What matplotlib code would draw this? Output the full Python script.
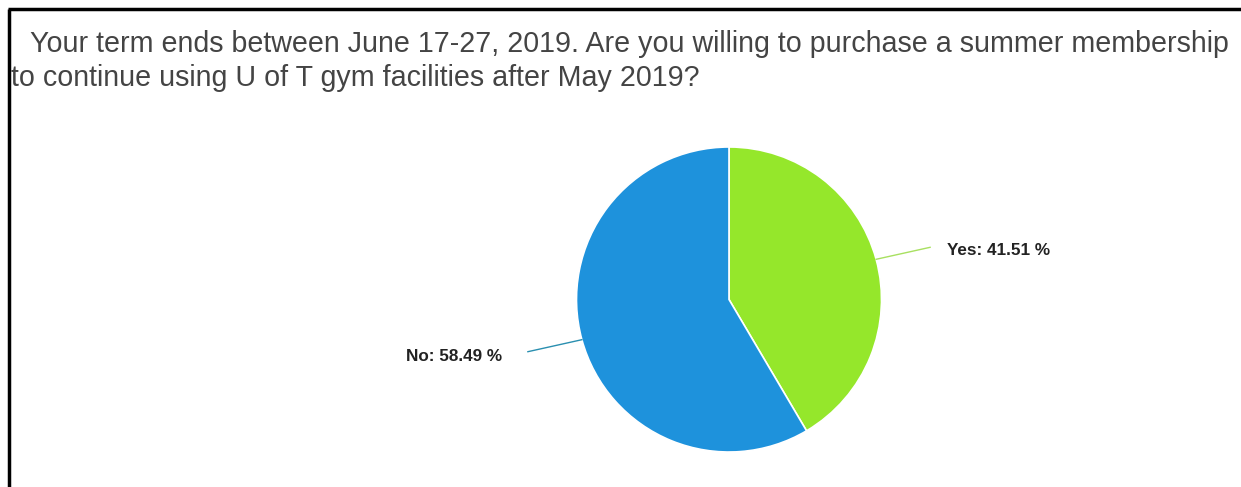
import numpy as np
import matplotlib.pyplot as plt

plt.rcParams['font.family'] = ['Liberation Sans', 'DejaVu Sans']

labels = ['Yes', 'No']
shares = [41.51, 58.49]
colors = ['#95e72b', '#1e92dc']
line_colors = ['#a8e060', '#2a8fb0']

title_lines = ['Your term ends between June 17-27, 2019. Are you willing to purchase a summer membership',
               'to continue using U of T gym facilities after May 2019?']

W, H = 1241, 487
fig = plt.figure(figsize=(W / 100, H / 100), dpi=100)
ax = fig.add_axes([0, 0, 1, 1])

cx, cy, r = 729, H - 299.5, 152.5
wedges, _ = ax.pie(shares, colors=colors, startangle=90, counterclock=False,
                   center=(cx, cy), radius=r,
                   wedgeprops=dict(edgecolor='white', linewidth=1.2))
ax.set_xlim(0, W)
ax.set_ylim(0, H)
ax.set_aspect('auto')
ax.axis('off')

# leader lines and labels at each slice's mid angle
for w, lab, val, lc in zip(wedges, labels, shares, line_colors):
    mid = np.deg2rad((w.theta1 + w.theta2) / 2)
    x0, y0 = cx + r * np.cos(mid), cy + r * np.sin(mid)
    dx = 1 if np.cos(mid) > 0 else -1
    x1, y1 = x0 + dx * 54, y0 + 12 * (1 if np.sin(mid) > 0 else -1)
    ax.plot([x0, x1], [y0, y1], color=lc, lw=1)
    gap = 17 if dx > 0 else 26
    ax.text(x1 + dx * gap, y1 - (3 if dx > 0 else 5), f'{lab}: {val:.2f} %', fontsize=12.3,
            fontweight='bold', color='#222222', va='center',
            ha='left' if dx > 0 else 'right')

ax.text(30, H - 52, title_lines[0], fontsize=20.6, color='#444444', va='baseline')
ax.text(11, H - 86, title_lines[1], fontsize=20.6, color='#444444', va='baseline')

# frame on the left and top edges
ax.plot([9, 9], [0, H - 9], color='black', lw=2.5, solid_capstyle='butt')
ax.plot([8, W], [H - 9, H - 9], color='black', lw=2.5, solid_capstyle='butt')

fig.savefig('out.png', dpi=100, facecolor='white')
